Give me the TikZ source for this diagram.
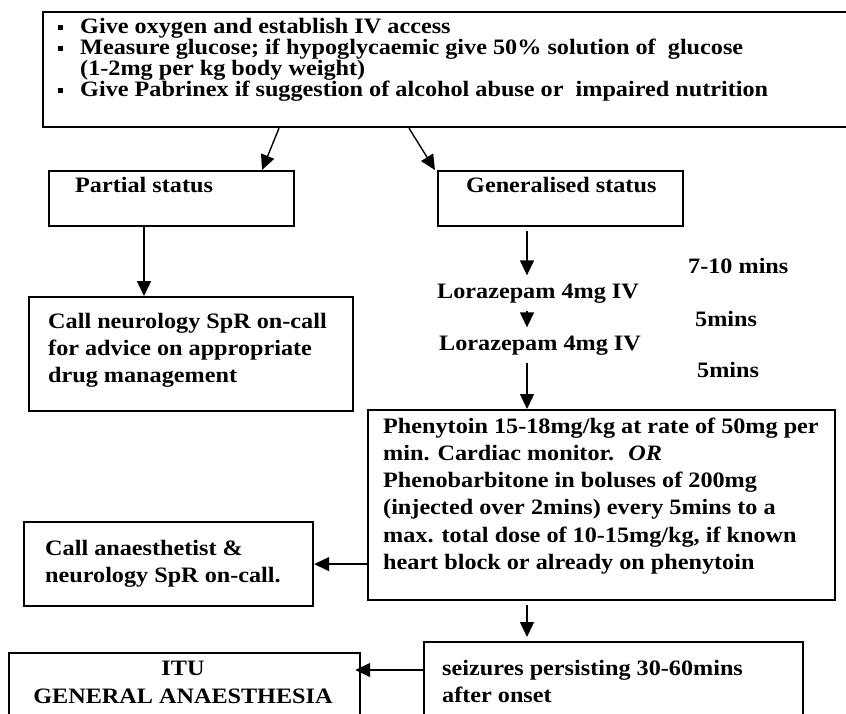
\documentclass[tikz,border=0pt]{standalone}
\usepackage{fontspec}
\setmainfont{Liberation Serif}[FakeStretch=1.1]
\usetikzlibrary{arrows.meta}
\newcommand{\sqbul}{\makebox[22pt][l]{\rule[4pt]{5pt}{5pt}}}

\begin{document}
\begin{tikzpicture}[x=1pt, y=-1pt,
  every node/.style={font=\fontsize{22}{27.3}\selectfont\bfseries},
  box/.style={draw, line width=2.2pt, inner sep=0pt, anchor=north west},
  txt/.style={anchor=base west, inner sep=0pt, align=left},
  drug/.style={anchor=base west, inner xsep=0pt, inner ysep=8pt},
  link/.style={line width=1.4pt, -{Triangle[length=15pt,width=14pt]}}]
	\useasboundingbox (0,0) rectangle (846,713);
	\clip (0,0) rectangle (846,713);

	\node[box, minimum width=808pt, minimum height=115pt] (acts) at (42,11) {};
	\node[txt, font=\fontsize{22}{21}\selectfont\bfseries] (acts-t) at (58,96.5)
		{\sqbul Give oxygen and establish IV access\\
		 \sqbul Measure glucose; if hypoglycaemic give 50\% solution of~ glucose\\
		 \hspace*{22pt}(1-2mg per kg body weight)\\
		 \sqbul Give Pabrinex if suggestion of alcohol abuse or~ impaired nutrition};

	\node[box, minimum width=245pt, minimum height=55pt] (partial) at (48,170) {};
	\node[txt] (partial-t) at (75,192) {Partial status};
	\node[box, minimum width=245pt, minimum height=55pt] (general) at (437,170) {};
	\node[txt] (general-t) at (466,192) {Generalised status};

	\node[box, minimum width=324pt, minimum height=114pt] (neuro) at (28,296) {};
	\node[txt] (neuro-t) at (48,382.6) {Call neurology SpR on-call\\ for advice on appropriate\\ drug management};

	\node[drug] (loraz1) at (437,298) {Lorazepam 4mg IV};
	\node[drug] (loraz2) at (439,350) {Lorazepam 4mg IV};
	\node[txt] (time1) at (688,273) {7-10 mins};
	\node[txt] (time2) at (695,326) {5mins};
	\node[txt] (time3) at (697,377) {5mins};

	\node[box, minimum width=467pt, minimum height=190pt] (pheny) at (367,409) {};
	\node[txt] (pheny-t) at (383,569.5) {Phenytoin 15-18mg/kg at rate of 50mg per\\
		min. Cardiac monitor.~ \textit{OR}\\
		Phenobarbitone in boluses of 200mg\\
		(injected over 2mins) every 5mins to a\\
		max. total dose of 10-15mg/kg, if known\\
		heart block or already on phenytoin};

	\node[box, minimum width=289pt, minimum height=84pt] (anaes) at (23,521) {};
	\node[txt] (anaes-t) at (45,582.3) {Call anaesthetist \&\\ neurology SpR on-call.};

	\node[box, minimum width=379pt, minimum height=100pt] (seiz) at (423,641) {};
	\node[txt] (seiz-t) at (442,702.3) {seizures persisting 30-60mins\\ after onset};
	\node[box, minimum width=351pt, minimum height=100pt] (itu) at (8,652) {};
	\node[txt, anchor=base, align=center] (itu-t) at (183,703) {ITU\\ GENERAL ANAESTHESIA};

	\coordinate (spine) at (527,0);
	\coordinate (lvl) at (0,670);
	\draw[link] ([xshift=237pt]acts.south west) -- ([xshift=214pt]partial.north west);
	\draw[link] ([xshift=367pt]acts.south west) -- ([xshift=-2pt]general.north west);
	\draw[link] ([xshift=96pt]partial.south west) -- ([xshift=116pt]neuro.north west);
	\draw[link, shorten <=4pt] (spine |- general.south) -- (spine |- loraz1.north);
	\draw[link] (spine |- loraz1.south) -- (spine |- loraz2.north);
	\draw[link] (spine |- loraz2.south) -- (spine |- pheny.north);
	\draw[link] (pheny.west |- anaes.east) -- (anaes.east);
	\draw[link, shorten <=4pt, shorten >=4pt] (spine |- pheny.south) -- (spine |- seiz.north);
	\draw[link, shorten >=-6pt] (seiz.west |- lvl) -- (itu.east |- lvl);
\end{tikzpicture}
\end{document}
